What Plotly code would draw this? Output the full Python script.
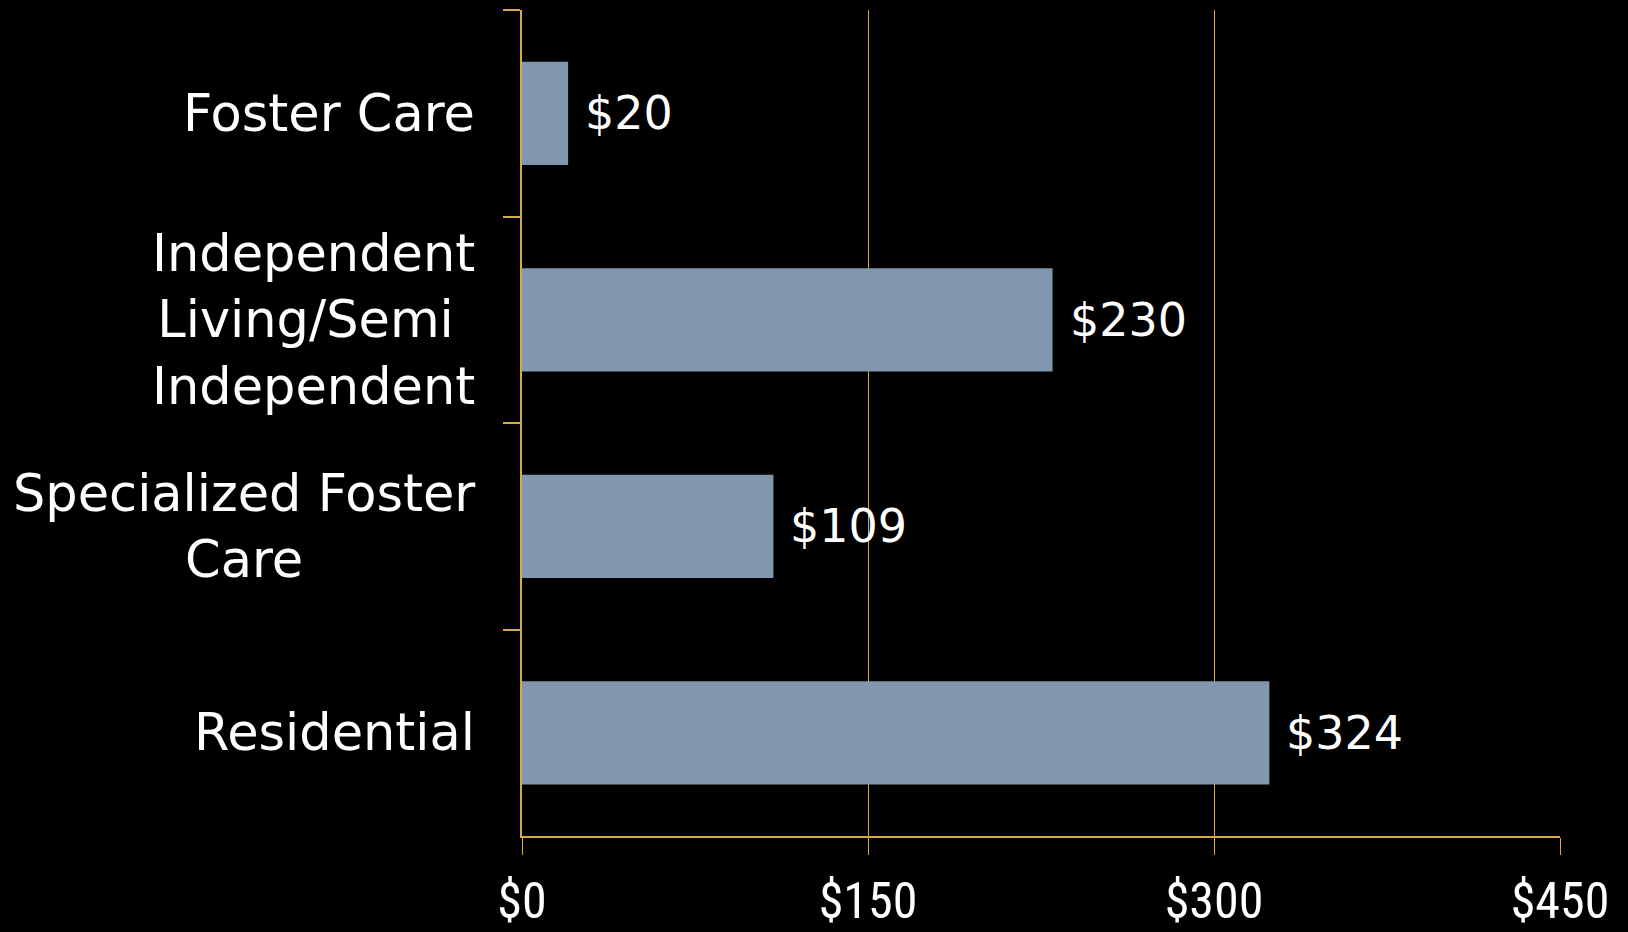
import plotly.graph_objects as go

categories = ["Foster Care", "Independent<br>Living/Semi <br>Independent", "Specialized Foster<br>Care", "Residential"]
values = [20, 230, 109, 324]
value_labels = ["$20", "$230", "$109", "$324"]
tick_vals = [0, 150, 300, 450]
tick_text = ["$0", "$150", "$300", "$450"]

GOLD = "#D6A94C"
BAR = "#8197AE"
FONT = "DejaVu Sans"

fig = go.Figure()
fig.add_trace(go.Bar(
    y=categories, x=values, orientation="h",
    marker=dict(color=BAR, line=dict(width=0)),
    width=0.5,
    hoverinfo="skip",
))

for c, v, t in zip(categories, values, value_labels):
    fig.add_annotation(x=v, y=c, text=t, showarrow=False, xanchor="left",
                       xshift=15, font=dict(family=FONT, size=46, color="white"))

for c in categories:
    fig.add_annotation(x=0, xref="paper", y=c, text=c, showarrow=False,
                       xanchor="right", align="center", xshift=-45,
                       font=dict(family=FONT, size=51, color="white"))

fig.update_layout(
    width=1628, height=932,
    margin=dict(l=522, r=68, t=10, b=96, autoexpand=False),
    paper_bgcolor="black", plot_bgcolor="black",
    showlegend=False,
    xaxis=dict(
        range=[0, 450], tickvals=tick_vals, ticktext=tick_text,
        showgrid=True, gridcolor=GOLD, gridwidth=1,
        showline=True, linecolor=GOLD, linewidth=2,
        ticks="outside", ticklen=17, tickcolor=GOLD, tickwidth=1,
        ticklabelstandoff=3, automargin=False,
        tickfont=dict(family="Liberation Sans Narrow, Roboto Condensed, Arial Narrow, sans-serif", size=50, color="white"),
        zeroline=False, fixedrange=True,
    ),
    yaxis=dict(
        categoryorder="array", categoryarray=categories, autorange="reversed",
        showline=True, linecolor=GOLD, linewidth=2,
        ticks="outside", ticklen=17, tickcolor=GOLD, tickwidth=2,
        tickson="boundaries", automargin=False,
        showticklabels=False,
        showgrid=False, fixedrange=True,
    ),
)

fig.write_html("out.html")
